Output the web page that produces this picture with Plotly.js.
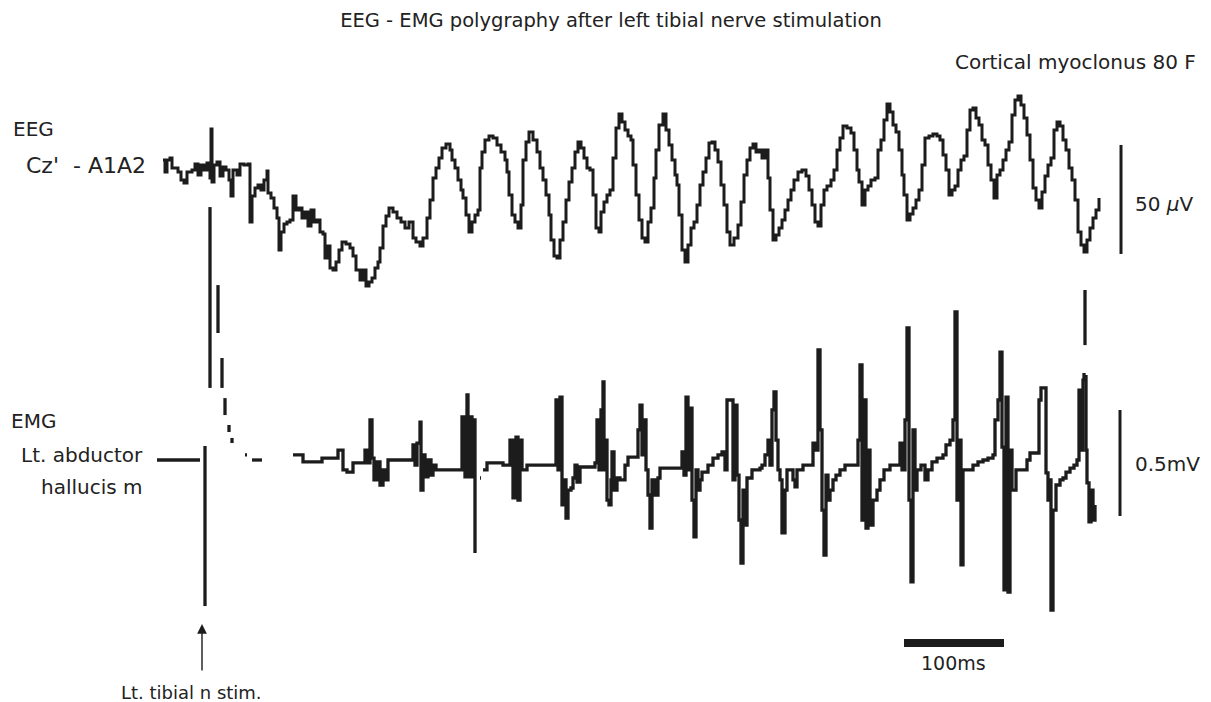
<!DOCTYPE html>
<html><head><meta charset="utf-8">
<script src="https://cdn.plot.ly/plotly-3.0.1.min.js"></script>
<style>html,body{margin:0;padding:0;background:#fff;} #chart{width:1211px;height:702px;}</style>
</head><body><div id="chart"></div>
<script>
// EEG Cz' - A1A2 trace: time (ms, 0 = stimulus) and amplitude (µV)
const eegTime = [
-42,-40,-38,-35,-33,-30,-27,-24,-21,-18,
-13,-10,-7,-4,-1,2,5,6,7,9,
12,15,18,21,24,26,28,32,35,39,
43,45,47,50,53,56,59,62,63,66,
69,72,74,76,79,82,85,88,91,94,
97,100,103,106,109,112,115,118,120,122,
125,128,131,134,137,141,145,148,151,155,
158,161,164,167,170,173,175,178,181,184,
188,192,196,200,204,208,211,215,218,222,
225,228,231,234,237,241,245,247,250,253,
256,258,261,264,267,270,273,275,277,280,
284,288,292,296,300,302,304,307,310,313,
316,318,321,324,328,332,335,338,341,344,
346,349,352,355,358,361,364,367,370,373,
376,379,382,385,388,391,394,396,399,402,
405,408,411,414,417,420,423,426,428,431,
434,437,440,443,446,449,451,454,458,461,
464,467,470,472,474,477,480,483,486,489,
492,495,498,501,504,507,510,513,516,519,
522,525,529,533,536,539,542,545,548,551,
554,557,560,563,565,568,571,574,577,580,
583,586,589,593,597,601,604,607,610,613,
616,619,622,626,629,632,635,638,642,646,
649,652,654,657,660,663,666,670,673,676,
679,682,685,688,691,694,697,699,702,705,
708,711,714,717,720,724,728,732,735,738,
741,744,747,750,753,756,759,762,765,768,
771,774,777,780,783,786,789,792,795,798,
801,804,807,810,813,816,819,822,825,828,
831,834,837,840,843,846,849,852,855,858,
861,864,867,870,873,876,879,882,885,888,
891,894];
const eegMicroV = [
2.3,-3.2,2.3,3.2,-1.4,-1.4,-3.2,-6.9,-8.3,-3.2,
-2.3,0.5,-4.6,0,-2.3,0.9,-6.0,16.5,-7.8,0,
1.4,-5.0,-0.9,-2.3,-6.9,-14.2,-2.3,-4.6,0.5,0,
0.5,-26.1,-14.2,-10.6,-9.2,-11.5,-6.9,-2.8,-12.8,-15.1,
-19.7,-24.3,-39.0,-30.7,-27.1,-26.1,-25.2,-14.2,-20.6,-19.7,
-24.3,-21.6,-28.0,-20.6,-26.1,-25.2,-30.7,-31.7,-42.7,-37.2,
-47.2,-48.2,-44.5,-39.0,-35.3,-36.2,-38.1,-41.7,-48.2,-52.8,
-48.2,-55.5,-53.7,-51.8,-47.2,-44.5,-38.1,-28.0,-23.4,-19.7,
-21.6,-24.3,-26.1,-28.9,-26.1,-33.5,-35.3,-37.2,-33.5,-24.3,
-16.1,-6.0,-1.4,3.2,7.8,9.6,6.9,2.3,-1.4,-6.9,
-11.5,-15.1,-22.9,-30.7,-26.1,-22.9,-20.6,-1.4,6.0,11.5,
13.3,12.4,9.2,6.0,2.3,-3.2,-13.8,-22.9,-26.1,-28.9,
-18.3,2.3,10.6,15.1,11.5,6.0,-1.4,-6.9,-13.8,-22.9,
-34.4,-41.7,-42.7,-34.4,-26.1,-16.1,-7.8,-1.4,6.0,10.6,
7.8,3.2,-1.4,-2.3,-13.8,-28.9,-30.7,-21.6,-17.0,-13.8,
-11.5,3.2,17.0,23.4,19.7,16.1,13.3,11.5,0,-13.8,
-25.2,-33.5,-35.3,-26.1,-19.7,-6.0,6.9,18.3,23.4,16.1,
9.2,2.3,-4.6,-9.2,-22.9,-39.0,-44.5,-36.7,-28.9,-26.1,
-18.3,-9.2,-3.2,3.2,10.1,10.6,6.9,1.4,-9.2,-18.3,
-30.7,-36.7,-33.5,-27.5,-17.0,-4.6,2.3,7.8,9.6,6.0,
6.9,3.2,6.9,-6.0,-20.6,-34.4,-32.1,-28.9,-25.2,-20.6,
-16.1,-11.5,-6.9,-3.2,-2.3,-5.0,-11.5,-18.3,-26.1,-28.0,
-18.3,-11.5,-9.6,-6.9,-2.3,6.9,12.4,17.9,17.0,14.7,
6.9,-2.3,-7.8,-18.3,-11.5,-9.6,-6.9,-6.0,6.9,11.5,
20.6,28.0,24.3,18.3,15.1,6.9,-4.6,-13.8,-25.2,-22.5,
-19.7,-16.1,-11.5,0,12.4,13.3,14.2,13.3,11.5,4.6,
-2.3,-13.8,-11.5,-9.6,-2.3,2.3,4.1,16.1,25.2,26.1,
21.6,18.3,11.5,9.2,0,-6.9,-15.1,-4.6,-2.3,2.3,
6.9,10.6,22.9,29.8,31.7,27.5,21.6,13.8,2.3,-10.6,
-16.1,-19.7,-12.4,-5.0,0,3.2,16.1,19.7,17.9,11.5,
6.9,-1.4,-6.9,-16.1,-30.7,-36.7,-39.9,-34.4,-28.9,-24.3,
-20.6,-15.1];

// EMG Lt. abductor hallucis m trace: time (ms) and amplitude (mV); null = pen gap
const emgTime = [
-48,-5,null,0,0,null,5,5,null,13,
13,null,17,17,null,20,20,null,24,24,
null,27,27,null,40,42,null,47,57,null,
88,98,117,133,133,137,138,142,148,155,
160,162,165,167,169,172,175,178,181,183,
195,205,208,210,212,215,216,218,220,223,
226,228,231,257,257,260,262,263,265,267,
268,270,270,null,275,276,null,278,282,295,
298,305,305,308,311,313,315,317,318,322,
350,351,353,355,357,359,361,363,366,368,
370,372,375,390,392,394,396,398,399,401,
402,404,406,407,409,412,415,420,423,432,
433,435,437,439,441,443,445,447,450,453,
455,475,477,479,481,483,485,487,489,491,
493,495,497,503,508,513,517,520,522,527,
528,530,532,534,536,538,540,542,547,555,
557,560,563,565,567,569,571,573,575,577,
580,582,585,588,590,592,598,605,608,611,
613,615,617,619,621,623,625,628,631,635,
640,651,653,655,657,659,661,663,665,668,
672,675,679,685,692,695,697,700,702,704,
706,708,710,712,716,720,723,727,732,738,
741,745,748,750,752,754,756,758,763,768,
773,778,783,788,790,793,795,797,799,801,
803,805,807,811,818,822,825,832,834,836,
839,841,843,845,846,848,851,855,858,861,
865,869,872,874,876,878,879,null,880,880,
null,881,881,882,884,886,888,890];
const emgMilliV = [
0,0,null,0.066,-0.689,null,1.193,0.340,null,0.825,
0.599,null,0.481,0.340,null,0.292,0.212,null,0.165,0.132,
null,0.104,0.080,null,0.024,0.024,null,0,0,null,
0.024,-0.009,0.009,0.009,0.047,0.047,-0.047,-0.057,-0.014,-0.014,
0.047,-0.014,0.189,0.009,-0.094,-0.009,-0.118,-0.047,-0.094,0,
0,0,0.071,-0.024,0.080,0.179,-0.142,0.024,-0.080,0,
-0.071,-0.024,-0.047,-0.014,0.203,-0.080,0.307,-0.080,0.203,-0.080,
0.189,-0.094,-0.439,null,-0.085,-0.085,null,-0.047,-0.014,-0.014,
-0.024,-0.024,0.094,-0.179,0.108,-0.189,0.094,-0.047,-0.047,-0.024,
-0.024,0.283,-0.047,0.297,-0.212,-0.094,-0.274,-0.142,-0.132,-0.085,
-0.024,-0.104,-0.033,-0.014,0.189,-0.047,0.236,0.368,-0.047,0.094,
-0.189,-0.212,-0.094,0.038,-0.142,-0.085,-0.094,-0.024,0.014,0.014,
0.142,0.259,0.024,0.189,-0.047,-0.165,-0.321,-0.094,-0.165,-0.085,
-0.038,-0.038,0.038,-0.071,0.297,-0.047,0.245,-0.189,-0.363,-0.047,
-0.142,-0.094,-0.057,-0.024,0.009,0.024,0.038,-0.047,0.283,0.283,
-0.094,0.259,-0.071,-0.283,-0.486,-0.142,-0.307,-0.085,-0.047,-0.038,
-0.024,0.024,0.094,-0.024,0.236,0.321,0.094,-0.047,-0.094,-0.344,
-0.142,-0.047,-0.047,-0.094,-0.127,-0.047,-0.024,-0.024,0.080,0.047,
0.519,0.142,-0.236,-0.448,-0.071,-0.189,-0.142,-0.094,-0.071,-0.047,
-0.024,-0.024,0.094,0.448,-0.283,0.283,-0.321,0.047,-0.307,-0.189,
-0.142,-0.094,-0.047,-0.024,-0.024,0.080,-0.047,0.189,0.623,-0.189,
-0.575,0.142,-0.142,-0.047,-0.024,-0.094,-0.047,-0.009,0.009,0.024,
0.071,0.094,0.189,0.698,-0.189,0.094,-0.495,-0.047,-0.047,-0.024,
-0.009,0,0.009,0.024,0.189,0.283,0.509,0.061,-0.613,0.297,
-0.623,0.047,-0.142,-0.047,-0.047,0,0.033,0.033,0.283,0.340,
0.340,-0.061,-0.189,-0.094,-0.708,-0.236,-0.118,-0.094,-0.085,-0.057,
-0.038,-0.024,0,0.330,0.047,0.377,0.410,null,0.802,0.542,
null,0.401,0.047,-0.108,-0.292,-0.142,-0.283,-0.212];

// calibration bars
const eegScaleMicroV = 50;
const emgScaleMilliV = 0.5;
const timeScaleMs = 100;

// labels
const titleText = 'EEG - EMG polygraphy after left tibial nerve stimulation';
const subjectText = 'Cortical myoclonus 80 F';

const W = 1211, H = 702;
const px = x => x / W;
const py = y => 1 - y / H;
const ink = '#1c1c1c';
const FONT = 'DejaVu Sans, Liberation Sans, sans-serif';

const traces = [
  {x: eegTime, y: eegMicroV, type: 'scatter', mode: 'lines', line: {shape: 'hv', color: ink, width: 3}, yaxis: 'y', hoverinfo: 'skip'},
  {x: emgTime, y: emgMilliV, type: 'scatter', mode: 'lines', line: {shape: 'hv', color: ink, width: 3.3}, yaxis: 'y2', connectgaps: false, hoverinfo: 'skip'}
];

function lbl(text, x, y, anchor, size) {
  return {text: text, xref: 'paper', yref: 'paper', x: px(x), y: py(y),
    xanchor: anchor, yanchor: 'middle', showarrow: false,
    font: {family: FONT, size: size, color: '#222'}};
}

const layout = {
  width: W, height: H,
  margin: {l: 0, r: 0, t: 0, b: 0},
  paper_bgcolor: '#fff', plot_bgcolor: '#fff',
  showlegend: false,
  title: {text: titleText, x: px(611), xanchor: 'center', xref: 'paper', y: py(20), yanchor: 'middle', yref: 'container',
    font: {family: FONT, size: 19.5, color: '#222'}},
  xaxis: {range: [-205, 1006], visible: false, fixedrange: true},
  yaxis: {range: [-246.33, 75.69], visible: false, fixedrange: true},
  yaxis2: {range: [-1.1415, 2.1698], overlaying: 'y', visible: false, fixedrange: true},
  shapes: [
    {type: 'line', xref: 'x', yref: 'y', x0: 916, x1: 916, y0: 9.2 - eegScaleMicroV, y1: 9.2, line: {color: ink, width: 3}},
    {type: 'line', xref: 'x', yref: 'y2', x0: 915, x1: 915, y0: 0.236 - emgScaleMilliV, y1: 0.236, line: {color: ink, width: 3}},
    {type: 'line', xref: 'x', yref: 'paper', x0: 699, x1: 699 + timeScaleMs, y0: py(643), y1: py(643), line: {color: ink, width: 8}}
  ],
  annotations: [
    lbl(subjectText, 1198, 62, 'right', 20),
    lbl('EEG', 11, 129, 'left', 20),
    lbl("Cz'  - A1A2", 24, 165, 'left', 22),
    lbl('EMG', 9, 421, 'left', 20),
    lbl('Lt. abductor', 145, 455, 'right', 20),
    lbl('hallucis m', 145, 487, 'right', 20),
    lbl('50 <i>µ</i>V', 1133, 204, 'left', 20),
    lbl('0.5mV', 1133, 464, 'left', 20),
    lbl(timeScaleMs + 'ms', 953, 663, 'center', 19),
    lbl('Lt. tibial n stim.', 191, 692, 'center', 18),
    {text: '', xref: 'x', yref: 'paper', x: -3, y: py(624), showarrow: true, ax: 0, ay: 48,
     arrowhead: 2, arrowsize: 1.4, arrowwidth: 1.4, arrowcolor: ink, standoff: 0}
  ]
};

Plotly.newPlot('chart', traces, layout, {staticPlot: true, displayModeBar: false});
</script>
</body></html>
